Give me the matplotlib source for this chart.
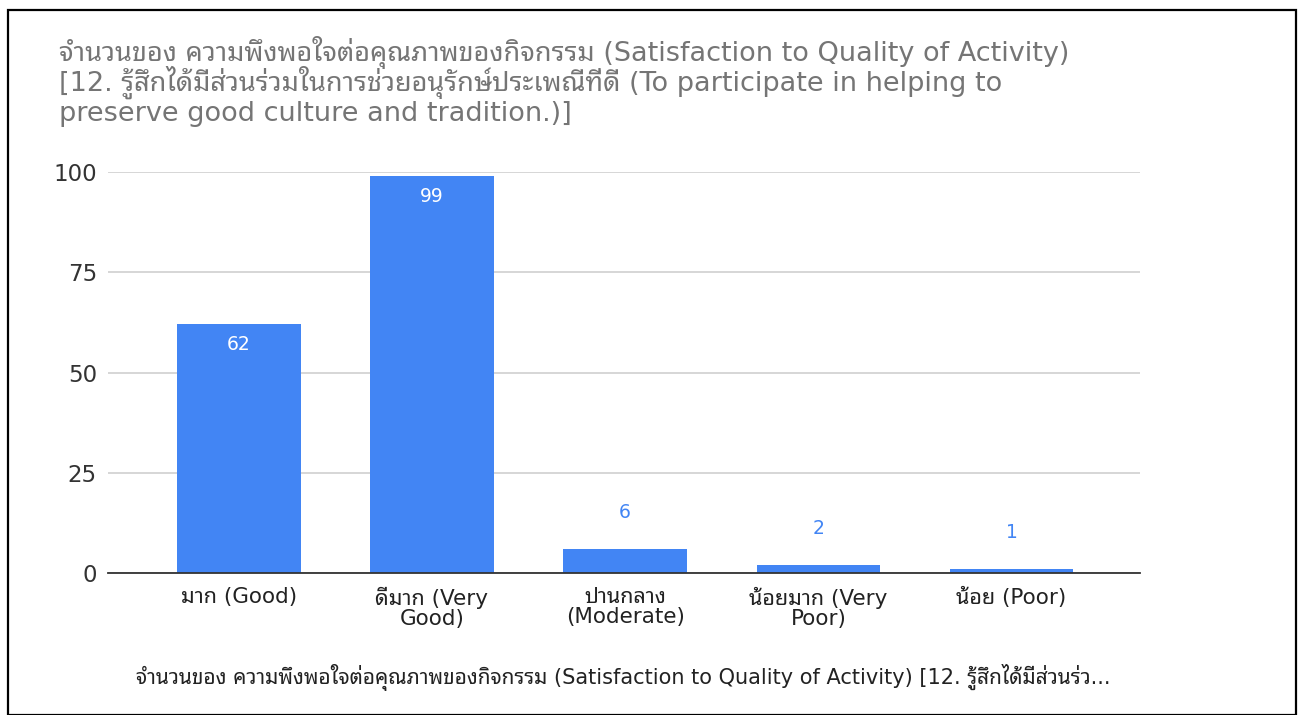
import matplotlib
matplotlib.use("Agg")
import matplotlib.pyplot as plt
from matplotlib.patches import Rectangle

# data
categories = ["มาก (Good)", "ดีมาก (Very\nGood)", "ปานกลาง\n(Moderate)", "น้อยมาก (Very\nPoor)", "น้อย (Poor)"]
counts = [62, 99, 6, 2, 1]
yticks = [0, 25, 50, 75, 100]

title_lines = ["จำนวนของ ความพึงพอใจต่อคุณภาพของกิจกรรม (Satisfaction to Quality of Activity)",
               "[12. รู้สึกได้มีส่วนร่วมในการช่วยอนุรักษ์ประเพณีที่ดี (To participate in helping to",
               "preserve good culture and tradition.)]"]
caption = "จำนวนของ ความพึงพอใจต่อคุณภาพของกิจกรรม (Satisfaction to Quality of Activity) [12. รู้สึกได้มีส่วนร่ว..."

plt.rcParams["font.family"] = ["DejaVu Sans", "Noto Sans Thai Looped"]

W, H = 1298, 715
fig = plt.figure(figsize=(W / 100, H / 100), dpi=100)

def px(x, y):
    # pixel position (from top-left) -> figure fraction
    return x / W, 1 - y / H

# outer frame
fig.patches.append(Rectangle((8 / W, 0), (1296 - 8) / W, 1 - 10 / H, transform=fig.transFigure,
                             fill=False, edgecolor="black", linewidth=1.6))

left, right, top, bottom = 108, 1140, 172, 573
ax = fig.add_axes([left / W, 1 - bottom / H, (right - left) / W, (bottom - top) / H])

blue = "#4285f4"
x = range(len(categories))
ax.bar(x, counts, width=0.64, color=blue, zorder=3)

for i, v in enumerate(counts):
    if v > 10:
        ax.annotate(str(v), (i, v), xytext=(0, -14.4), textcoords="offset points",
                    ha="center", va="center", color="white", fontsize=13.5, zorder=4)
    else:
        ax.annotate(str(v), (i, v), xytext=(0, 26), textcoords="offset points",
                    ha="center", va="center", color=blue, fontsize=13.5, zorder=4)

ax.set_xlim(-0.677, 4.665)
ax.set_ylim(0, 100)
ax.set_yticks(yticks)
ax.set_yticklabels([str(t) for t in yticks], fontsize=16.5, color="#333333")
ax.set_xticks(list(x))
ax.set_xticklabels(categories, fontsize=15.5, color="#222222", linespacing=0.98)
ax.tick_params(axis="y", length=0, pad=8)
ax.tick_params(axis="x", length=0, pad=10)
ax.grid(axis="y", color="#cccccc", linewidth=1.1, zorder=0)
for s in ["top", "right", "left"]:
    ax.spines[s].set_visible(False)
ax.spines["bottom"].set_color("#333333")
ax.spines["bottom"].set_linewidth(1.3)
ax.spines["bottom"].set_zorder(5)

for line, base in zip(title_lines, [61, 91, 121]):
    tx, ty = px(59, base)
    fig.text(tx, ty, line, ha="left", va="baseline", fontsize=19.5, color="#757575")

cx, cy = px(623, 677)
fig.text(cx, cy, caption, ha="center", va="center", fontsize=15, color="#222222")

fig.savefig("out.png", dpi=100)
